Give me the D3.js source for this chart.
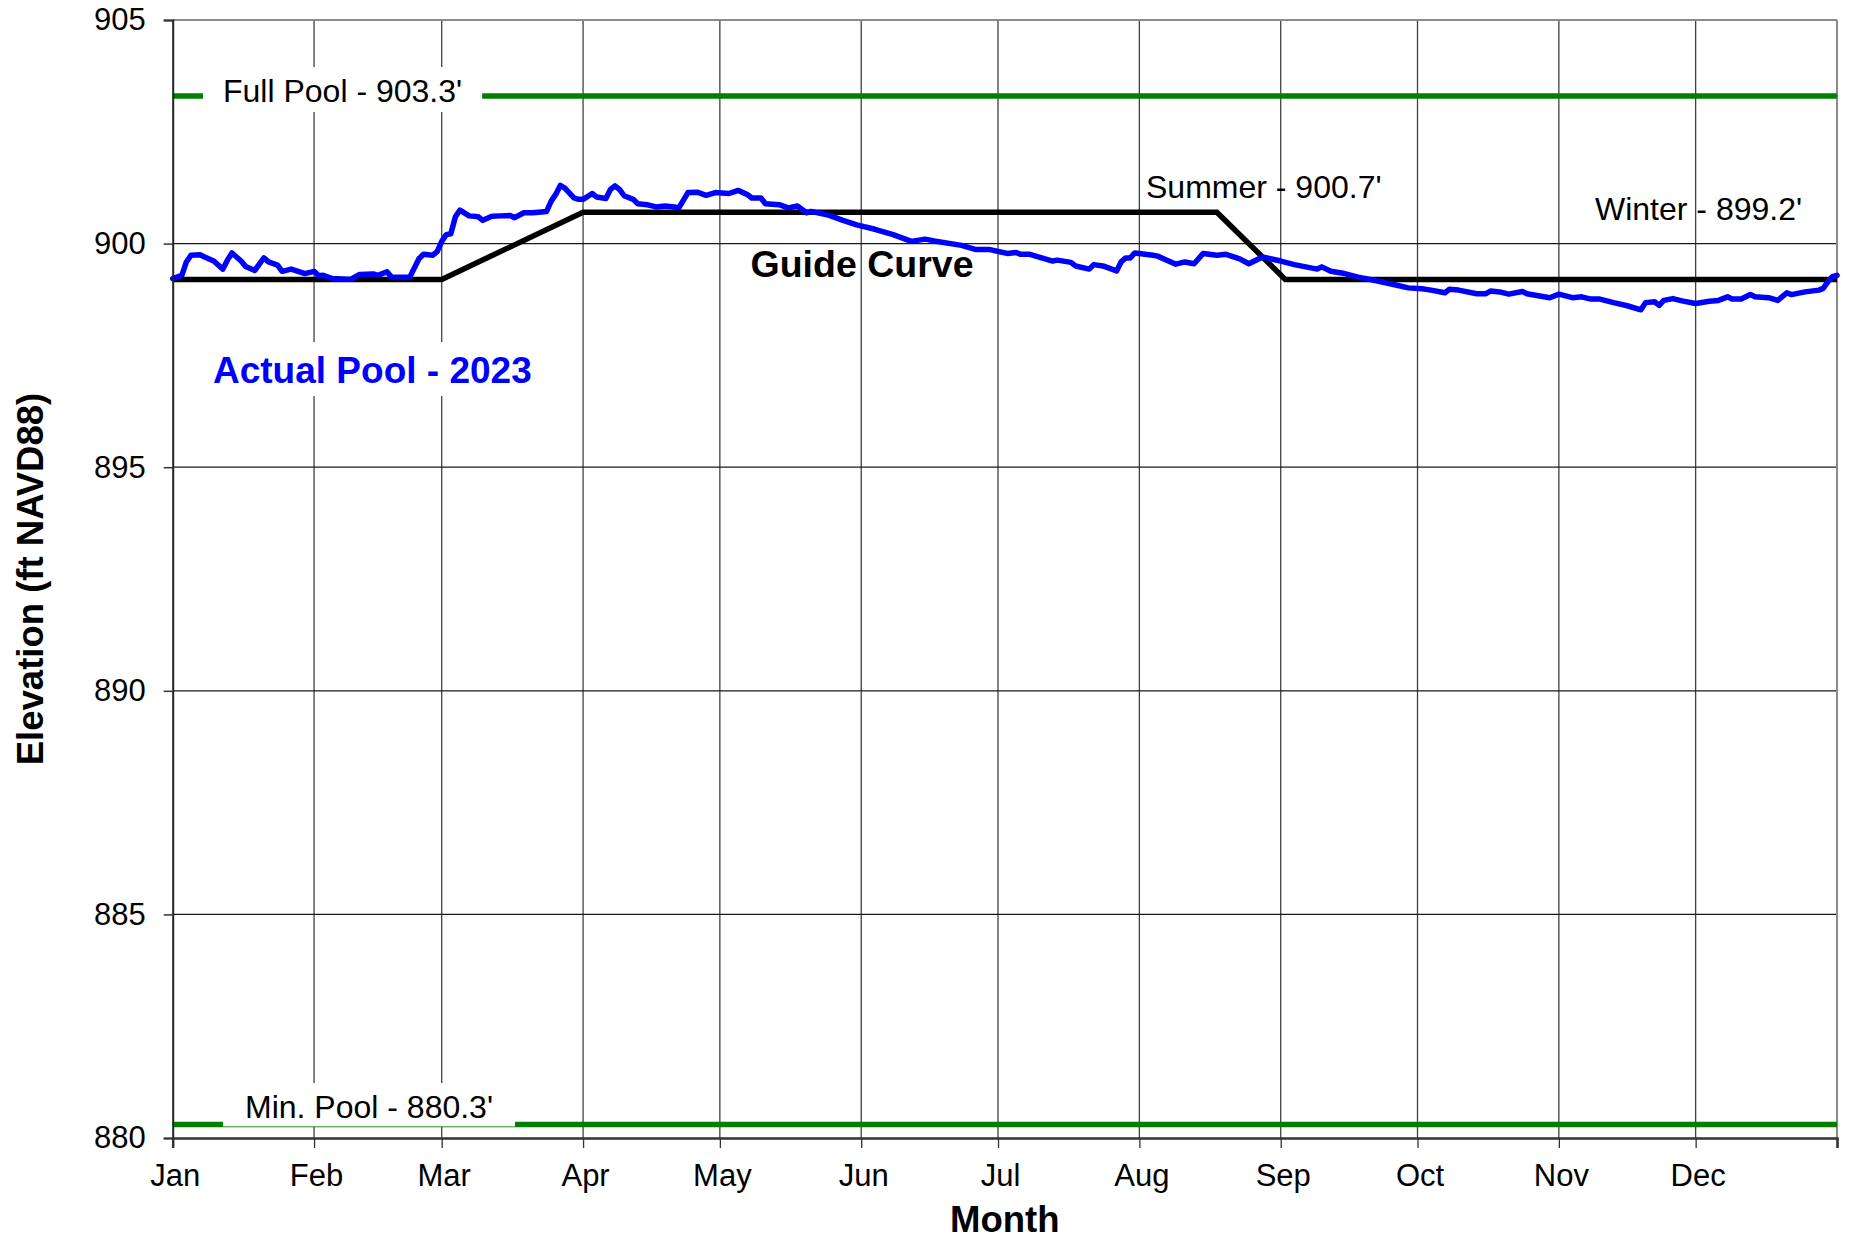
<!DOCTYPE html>
<html>
<head>
<meta charset="utf-8">
<script src="https://cdn.jsdelivr.net/npm/d3@7"></script>
<style>
  body { margin: 0; background: #fff; }
  text { font-family: "Liberation Sans", Arial, sans-serif; }
</style>
</head>
<body>
<svg width="1849" height="1241"></svg>
<script>
const monthLabels = ['Jan', 'Feb', 'Mar', 'Apr', 'May', 'Jun', 'Jul', 'Aug', 'Sep', 'Oct', 'Nov', 'Dec']
const yTicks = [880, 885, 890, 895, 900, 905]

const fullPool = 903.3
const minPool = 880.3

const guideDates = ['2023-01-01', '2023-03-01', '2023-04-01', '2023-08-18', '2023-09-02', '2024-01-01']
const guideLevels = [899.2, 899.2, 900.7, 900.7, 899.2, 899.2]

const poolDates = [
	'2023-01-01', '2023-01-03', '2023-01-04', '2023-01-05', '2023-01-07', '2023-01-08', '2023-01-10', '2023-01-12', '2023-01-13', '2023-01-14',
	'2023-01-16', '2023-01-17', '2023-01-19', '2023-01-21', '2023-01-22', '2023-01-24', '2023-01-25', '2023-01-27', '2023-01-30',
	'2023-02-01', '2023-02-02', '2023-02-03', '2023-02-05', '2023-02-09', '2023-02-11', '2023-02-14', '2023-02-15', '2023-02-17', '2023-02-18',
	'2023-02-22', '2023-02-24', '2023-02-25', '2023-02-27', '2023-02-28',
	'2023-03-01', '2023-03-02', '2023-03-03', '2023-03-04', '2023-03-05', '2023-03-07', '2023-03-09', '2023-03-10', '2023-03-12', '2023-03-14',
	'2023-03-16', '2023-03-17', '2023-03-19', '2023-03-21', '2023-03-24', '2023-03-25', '2023-03-26', '2023-03-27', '2023-03-28', '2023-03-30', '2023-03-31',
	'2023-04-01', '2023-04-03', '2023-04-04', '2023-04-06', '2023-04-07', '2023-04-08', '2023-04-09', '2023-04-10', '2023-04-12', '2023-04-13',
	'2023-04-15', '2023-04-17', '2023-04-19', '2023-04-21', '2023-04-22', '2023-04-24', '2023-04-26', '2023-04-28', '2023-04-30',
	'2023-05-03', '2023-05-05', '2023-05-07', '2023-05-08', '2023-05-10', '2023-05-11', '2023-05-14', '2023-05-16', '2023-05-18', '2023-05-20',
	'2023-05-21', '2023-05-25', '2023-05-28', '2023-05-31',
	'2023-06-04', '2023-06-08', '2023-06-12', '2023-06-15', '2023-06-17', '2023-06-23', '2023-06-26', '2023-06-29',
	'2023-07-03', '2023-07-05', '2023-07-06', '2023-07-08', '2023-07-10', '2023-07-13', '2023-07-14', '2023-07-17', '2023-07-18', '2023-07-21',
	'2023-07-22', '2023-07-24', '2023-07-27', '2023-07-28', '2023-07-29', '2023-07-30', '2023-07-31',
	'2023-08-04', '2023-08-05', '2023-08-09', '2023-08-11', '2023-08-13', '2023-08-15', '2023-08-18', '2023-08-20', '2023-08-23', '2023-08-25', '2023-08-28',
	'2023-09-01', '2023-09-04', '2023-09-09', '2023-09-10', '2023-09-12', '2023-09-15', '2023-09-18', '2023-09-22', '2023-09-26', '2023-09-29',
	'2023-10-02', '2023-10-04', '2023-10-07', '2023-10-08', '2023-10-10', '2023-10-14', '2023-10-16', '2023-10-17', '2023-10-19', '2023-10-21',
	'2023-10-24', '2023-10-25', '2023-10-30',
	'2023-11-01', '2023-11-04', '2023-11-06', '2023-11-08', '2023-11-10', '2023-11-13', '2023-11-16', '2023-11-19', '2023-11-20', '2023-11-22',
	'2023-11-23', '2023-11-24', '2023-11-26', '2023-11-28',
	'2023-12-01', '2023-12-04', '2023-12-06', '2023-12-08', '2023-12-09', '2023-12-11', '2023-12-13', '2023-12-14', '2023-12-17', '2023-12-19',
	'2023-12-21', '2023-12-22', '2023-12-25', '2023-12-28', '2023-12-29', '2023-12-30', '2023-12-31', '2024-01-01'
]
const poolLevels = [
	899.22, 899.29, 899.59, 899.74, 899.75, 899.70, 899.61, 899.43, 899.63, 899.79,
	899.61, 899.49, 899.40, 899.68, 899.59, 899.52, 899.38, 899.43, 899.33,
	899.38, 899.28, 899.29, 899.22, 899.20, 899.31, 899.32, 899.29, 899.37, 899.25,
	899.25, 899.66, 899.76, 899.74, 899.82,
	900.05, 900.20, 900.22, 900.60, 900.75, 900.62, 900.60, 900.52, 900.61, 900.62,
	900.63, 900.58, 900.69, 900.69, 900.72, 900.95, 901.10, 901.30, 901.24, 901.02, 900.99,
	900.99, 901.12, 901.04, 901.01, 901.21, 901.29, 901.21, 901.07, 900.99, 900.89,
	900.87, 900.82, 900.84, 900.82, 900.80, 901.14, 901.15, 901.08, 901.14,
	901.12, 901.19, 901.10, 901.02, 901.02, 900.89, 900.87, 900.80, 900.84, 900.69,
	900.72, 900.63, 900.52, 900.42,
	900.32, 900.20, 900.05, 900.10, 900.06, 899.96, 899.87, 899.87,
	899.78, 899.80, 899.76, 899.76, 899.70, 899.61, 899.63, 899.58, 899.50, 899.43,
	899.53, 899.50, 899.39, 899.59, 899.68, 899.68, 899.79,
	899.74, 899.72, 899.54, 899.59, 899.55, 899.78, 899.74, 899.76, 899.66, 899.55, 899.70,
	899.61, 899.53, 899.43, 899.48, 899.38, 899.33, 899.25, 899.17, 899.08, 899.01,
	898.99, 898.96, 898.90, 898.98, 898.96, 898.88, 898.88, 898.94, 898.92, 898.87,
	898.93, 898.88, 898.79,
	898.87, 898.79, 898.81, 898.76, 898.76, 898.68, 898.61, 898.52, 898.68, 898.70,
	898.62, 898.73, 898.77, 898.72,
	898.66, 898.71, 898.73, 898.81, 898.76, 898.76, 898.86, 898.81, 898.79, 898.73,
	898.90, 898.86, 898.92, 898.96, 899.00, 899.15, 899.26, 899.29
]

const svg = d3.select('svg')
const parse = d3.timeParse('%Y-%m-%d')

const plotLeft = 172.7
const plotRight = 1837
const plotTop = 20
const plotBottom = 1138

const start = new Date(2023, 0, 1)
const end = new Date(2024, 0, 1)
const monthStarts = d3.timeMonth.range(start, d3.timeDay.offset(end, 1))

const x = d3.scaleTime().domain([start, end]).range([plotLeft, plotRight])
const y = d3.scaleLinear().domain([880, 905]).range([plotBottom, plotTop])

const guide = guideDates.map((d, i) => ({ date: parse(d), level: guideLevels[i] }))
const pool = poolDates.map((d, i) => ({ date: parse(d), level: poolLevels[i] }))

svg.append('rect').attr('width', 1849).attr('height', 1241).attr('fill', '#fff')

// grid
svg.append('g')
	.selectAll('line')
	.data(monthStarts.slice(1, -1))
	.enter()
	.append('line')
	.attr('x1', d => x(d)).attr('x2', d => x(d))
	.attr('y1', plotTop).attr('y2', plotBottom)
	.attr('stroke', '#404040').attr('stroke-width', 1.3)

svg.append('g')
	.selectAll('line')
	.data(yTicks.slice(1, -1))
	.enter()
	.append('line')
	.attr('x1', plotLeft).attr('x2', plotRight)
	.attr('y1', d => y(d)).attr('y2', d => y(d))
	.attr('stroke', '#1a1a1a').attr('stroke-width', 1.2)

// frame top / right
svg.append('line').attr('x1', plotLeft).attr('x2', plotRight).attr('y1', plotTop).attr('y2', plotTop)
	.attr('stroke', '#8a8a8a').attr('stroke-width', 2)
svg.append('line').attr('x1', plotRight).attr('x2', plotRight).attr('y1', plotTop).attr('y2', plotBottom)
	.attr('stroke', '#8a8a8a').attr('stroke-width', 2)

// full / min pool lines
svg.append('g')
	.selectAll('line')
	.data([fullPool, minPool])
	.enter()
	.append('line')
	.attr('x1', plotLeft).attr('x2', plotRight)
	.attr('y1', d => y(d)).attr('y2', d => y(d))
	.attr('stroke', '#008000').attr('stroke-width', 5.5)

const tickFont = 31
const labelFont = 32
const boldFont = 37.5

const boxedLabel = (txt, tx, ty, opts) => {
	const g = svg.append('g')
	const rect = g.append('rect').attr('fill', '#fff')
	const t = g.append('text')
		.attr('x', tx).attr('y', ty)
		.attr('font-size', opts.size)
		.attr('font-weight', opts.weight || 'normal')
		.attr('fill', opts.color || '#000')
		.text(txt)
	const bb = t.node().getBBox()
	rect.attr('x', bb.x - opts.padX)
		.attr('y', opts.y0)
		.attr('width', bb.width + 2 * opts.padX)
		.attr('height', opts.y1 - opts.y0)
}

boxedLabel("Full Pool - 903.3'", 223, y(fullPool) + 6, { size: labelFont, padX: 20, y0: 67, y1: 112 })
boxedLabel("Min. Pool - 880.3'", 245, y(minPool) - 6.5, { size: labelFont, padX: 22, y0: 1083, y1: y(minPool) + 1.8 })
boxedLabel('Actual Pool - 2023', 213, 383, { size: 37, weight: 'bold', color: '#0000ff', padX: 18, y0: 342, y1: 396 })

// guide curve and actual pool
const line = d3.line().x(d => x(d.date)).y(d => y(d.level))

svg.append('path')
	.datum(guide)
	.attr('d', line)
	.attr('fill', 'none')
	.attr('stroke', '#000')
	.attr('stroke-width', 5.5)

svg.append('path')
	.datum(pool)
	.attr('d', line)
	.attr('fill', 'none')
	.attr('stroke', '#0000ff')
	.attr('stroke-width', 5.5)
	.attr('stroke-linejoin', 'round')
	.attr('stroke-linecap', 'round')

// axes
const yAxis = d3.axisLeft(y).tickValues(yTicks).tickSize(9).tickPadding(18)
const gy = svg.append('g').attr('transform', `translate(${plotLeft},0)`).call(yAxis)
gy.select('.domain').attr('stroke', '#222').attr('stroke-width', 2)
gy.selectAll('.tick line').attr('stroke', '#333').attr('stroke-width', 1.5)
gy.selectAll('.tick text').attr('font-size', tickFont).attr('fill', '#000')
	.attr('font-family', '"Liberation Sans", Arial, sans-serif')

const xAxis = d3.axisBottom(x)
	.tickValues(monthStarts)
	.tickSize(10)
	.tickPadding(16)
	.tickFormat((d, i) => i < 12 ? monthLabels[i] : '')
const gx = svg.append('g').attr('transform', `translate(0,${plotBottom})`).call(xAxis)
gx.select('.domain').attr('stroke', '#333').attr('stroke-width', 2.5)
gx.selectAll('.tick line').attr('stroke', '#333').attr('stroke-width', 1.3)
gx.selectAll('.tick text').attr('font-size', tickFont).attr('fill', '#000')
	.attr('font-family', '"Liberation Sans", Arial, sans-serif')
	.attr('dx', 2)

// titles
svg.append('text')
	.attr('transform', `translate(43,${(plotTop + plotBottom) / 2}) rotate(-90)`)
	.attr('text-anchor', 'middle')
	.attr('font-size', 36.5)
	.attr('font-weight', 'bold')
	.text('Elevation (ft NAVD88)')

svg.append('text')
	.attr('x', (plotLeft + plotRight) / 2)
	.attr('y', 1232)
	.attr('text-anchor', 'middle')
	.attr('font-size', 36.5)
	.attr('font-weight', 'bold')
	.text('Month')

// annotations
svg.append('text')
	.attr('x', 862).attr('y', 277)
	.attr('text-anchor', 'middle')
	.attr('font-size', boldFont)
	.attr('font-weight', 'bold')
	.text('Guide Curve')

svg.append('text')
	.attr('x', 1146).attr('y', 198)
	.attr('font-size', labelFont)
	.text("Summer - 900.7'")

svg.append('text')
	.attr('x', 1595).attr('y', 220)
	.attr('font-size', labelFont)
	.text("Winter - 899.2'")
</script>
</body>
</html>
